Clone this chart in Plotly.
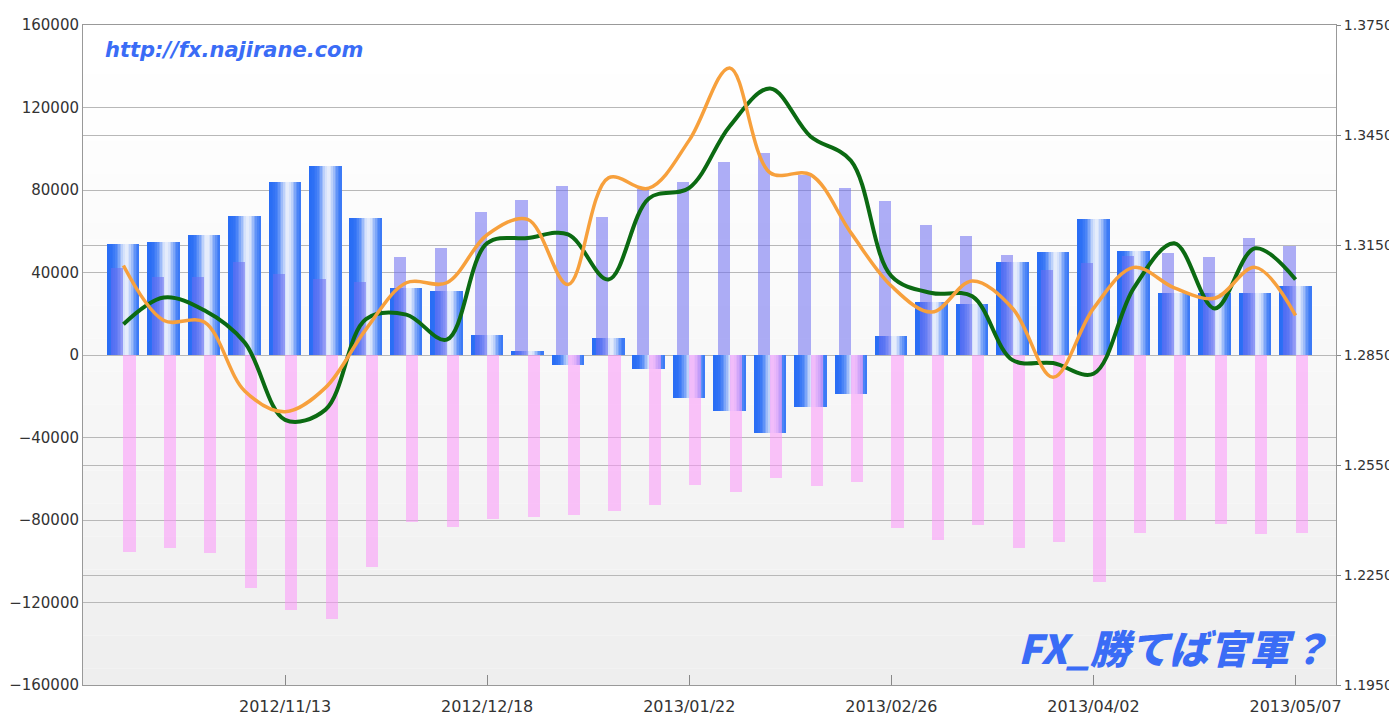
import math
import pandas as pd
import plotly.graph_objects as go

# ---------------- data ----------------
dates = pd.date_range("2012-10-16", "2013-05-07", freq="7D")

net_position = [54000, 55000, 58000, 67500, 84000, 91500, 66500, 32500, 31000, 9700,
                2000, -5000, 8200, -7000, -21000, -27000, -38000, -25000, -19000, 9200,
                25700, 24700, 45000, 50000, 66000, 50500, 30000, 30000, 30000, 33500]

long_position = [42000, 38000, 38000, 45200, 39300, 36800, 35400, 47700, 52000, 69500,
                 75000, 82000, 67000, 80500, 84000, 93600, 98000, 87300, 81000, 74800,
                 63000, 57700, 48500, 41000, 44600, 48000, 49400, 47700, 56900, 53000]

short_position = [-95700, -93600, -96000, -113000, -123600, -128000, -103000, -81000, -83400, -79500,
                  -78500, -77600, -75600, -72700, -63000, -66400, -59600, -63500, -61600, -83900,
                  -89700, -82400, -93600, -90700, -110000, -86300, -80000, -82000, -86800, -86300]

rate_green = [1.2934, 1.3007, 1.2972, 1.2884, 1.2673, 1.2701, 1.2948, 1.2960, 1.2892, 1.3155,
              1.3169, 1.3179, 1.3056, 1.3277, 1.3306, 1.3474, 1.3577, 1.3446, 1.3380, 1.3065,
              1.3019, 1.3010, 1.2836, 1.2828, 1.2799, 1.3033, 1.3155, 1.2977, 1.3141, 1.3056]

rate_orange = [1.3094, 1.2944, 1.2940, 1.2752, 1.2695, 1.2761, 1.2920, 1.3047, 1.3047, 1.3178,
               1.3220, 1.3042, 1.3333, 1.3305, 1.3436, 1.3633, 1.3347, 1.3342, 1.3183, 1.3038,
               1.2967, 1.3052, 1.2977, 1.2789, 1.2977, 1.3089, 1.3033, 1.3005, 1.3089, 1.2958]

tick_dates = ["2012-11-13", "2012-12-18", "2013-01-22", "2013-02-26", "2013-04-02", "2013-05-07"]
tick_labels = ["2012/11/13", "2012/12/18", "2013/01/22", "2013/02/26", "2013/04/02", "2013/05/07"]

# ---------------- styling ----------------
WEEK = 7 * 24 * 3600 * 1000  # ms
BLUE_W = 0.79 * WEEK
SUB_W = 0.30 * WEEK
N_SLICES = 20
FONT = "DejaVu Sans, sans-serif"

fig = go.Figure()

# gradient-filled blue bars, drawn as thin vertical slices
base = (40, 108, 245)
for i in range(N_SLICES):
    t = (i + 0.5) / N_SLICES
    w = math.exp(-((t - 0.6) / 0.25) ** 2) * 0.9
    col = tuple(round(c + (252 - c) * w) for c in base)
    fig.add_trace(go.Bar(
        x=dates, y=net_position,
        width=BLUE_W / N_SLICES + WEEK * 0.002,
        offset=-BLUE_W / 2 + i * BLUE_W / N_SLICES,
        marker=dict(color="rgb(%d,%d,%d)" % col, line=dict(width=0)),
        showlegend=False, hoverinfo="skip"))

fig.add_trace(go.Bar(
    x=dates, y=long_position, width=SUB_W, offset=-SUB_W,
    marker=dict(color="rgba(108,108,240,0.55)", line=dict(width=0)),
    showlegend=False, name="long"))
fig.add_trace(go.Bar(
    x=dates, y=short_position, width=SUB_W, offset=0,
    marker=dict(color="rgba(252,150,250,0.55)", line=dict(width=0)),
    showlegend=False, name="short"))

fig.add_trace(go.Scatter(
    x=dates, y=rate_green, yaxis="y2", mode="lines",
    line=dict(color="#0b6a12", width=4, shape="spline", smoothing=1.0),
    showlegend=False))
fig.add_trace(go.Scatter(
    x=dates, y=rate_orange, yaxis="y2", mode="lines",
    line=dict(color="#f7a03c", width=3.5, shape="spline", smoothing=1.0),
    showlegend=False))

# background vertical gradient
shapes = []
NB = 40
for j in range(NB):
    g = round(255 - 17 * (j / (NB - 1)) ** 1.3)
    shapes.append(dict(type="rect", xref="x domain", yref="y domain",
                       x0=0, x1=1, y0=1 - (j + 1) / NB, y1=1 - j / NB,
                       fillcolor="rgb(%d,%d,%d)" % (g, g, g),
                       line=dict(width=0), layer="below"))

# page body has an 8px margin, so the figure is sized/placed to compensate
fig.update_layout(
    width=1389, height=708,
    margin=dict(l=75, r=61, t=17, b=31),
    paper_bgcolor="white", plot_bgcolor="white",
    barmode="overlay", bargap=0,
    shapes=shapes,
    font=dict(family=FONT, size=15, color="#333333"),
    xaxis=dict(
        type="date", automargin=False,
        range=[pd.Timestamp("2012-10-09"), pd.Timestamp("2013-05-14")],
        tickvals=tick_dates, ticktext=tick_labels,
        ticks="inside", ticklen=10, tickcolor="#888888",
        ticklabelstandoff=7,
        showgrid=False, zeroline=False,
        showline=True, linecolor="#999999", linewidth=1, mirror=True,
        tickfont=dict(size=16, color="#333333"),
    ),
    yaxis=dict(
        automargin=False,
        range=[-160000, 160000], tick0=-160000, dtick=40000, tickformat="d",
        showgrid=True, gridcolor="#b8b8b8", gridwidth=1,
        zeroline=False, ticks="", showline=True, linecolor="#999999",
        tickfont=dict(size=15, color="#333333"),
    ),
    yaxis2=dict(
        automargin=False,
        overlaying="y", side="right",
        range=[1.195, 1.375], tick0=1.195, dtick=0.03, tickformat=".4f",
        showgrid=True, gridcolor="#b8b8b8", gridwidth=1,
        zeroline=False, ticks="outside", ticklen=4, tickcolor="#888888",
        showline=True, linecolor="#999999",
        tickfont=dict(size=14, color="#333333"),
    ),
    annotations=[
        dict(text="http://fx.najirane.com", xref="paper", yref="paper",
             x=0.016, y=0.962, xanchor="left", yanchor="middle", showarrow=False,
             font=dict(family="DejaVu Sans, sans-serif", size=21, color="#3a6cf6",
                       weight="bold", style="italic")),
        dict(text="FX_勝てば官軍？", xref="paper", yref="paper",
             x=0.996, y=0.058, xanchor="right", yanchor="middle", showarrow=False,
             font=dict(family="Noto Sans CJK JP, sans-serif", size=40, color="#3a6cf6",
                       weight=900, style="italic")),
    ],
)

fig.write_html("out.html")
